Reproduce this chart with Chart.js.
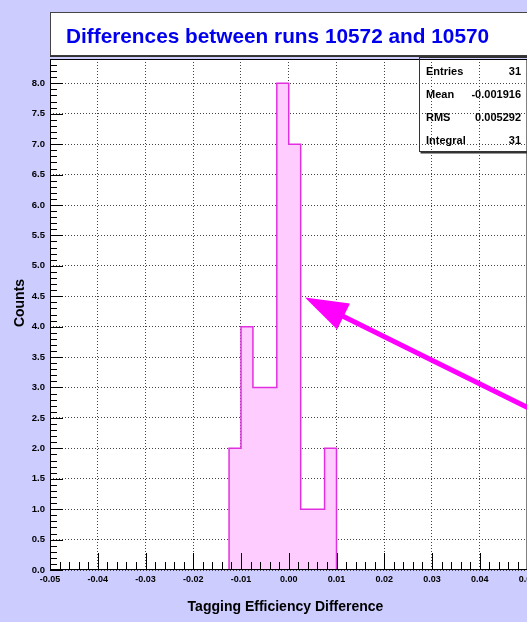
<!DOCTYPE html>
<html>
<head>
<meta charset="utf-8">
<title>Differences between runs 10572 and 10570</title>
<script src="https://cdn.jsdelivr.net/npm/chart.js@4/dist/chart.umd.min.js"></script>
<style>
  html, body { margin: 0; padding: 0; background: #ccccff; overflow: hidden; }
  #wrap { width: 527px; height: 622px; overflow: hidden; }
  canvas { display: block; }
</style>
</head>
<body>
<div id="wrap"><canvas id="c" width="560" height="622"></canvas></div>
<script>
// Histogram bin edges (tagging efficiency difference) and counts per bin
const binEdges = [-0.0125, -0.01, -0.0075, -0.005, -0.0025, 0.0, 0.0025, 0.005, 0.0075, 0.01];
const binCounts = [2, 4, 3, 3, 8, 7, 1, 1, 2];

// Axis ranges and tick spacing
const xRange = [-0.05, 0.05];
const yRange = [0, 8.4];
const xMajorStep = 0.01, xMinorStep = 0.002;
const yMajorStep = 0.5, yMinorStep = 0.1;

// Statistics box
const statNames = ['Entries', 'Mean', 'RMS', 'Integral'];
const statMean = '-0.001916';
const statRms = '0.005292';

// Annotation arrow (tail -> tip) in data coordinates
const arrowTail = { x: 0.057, y: 2.40 };
const arrowTip = { x: 0.0034, y: 4.48 };

const titleText = 'Differences between runs 10572 and 10570';
const xTitle = 'Tagging Efficiency Difference';
const yTitle = 'Counts';

// Step outline: up at the first edge, across each bin, down at the last edge
const histPoints = [{ x: binEdges[0], y: 0 }];
binCounts.forEach((c, i) => histPoints.push({ x: binEdges[i], y: c }));
histPoints.push({ x: binEdges[binEdges.length - 1], y: 0 });

const entries = binCounts.reduce((a, b) => a + b, 0);
const statValues = [String(entries), statMean, statRms, String(entries)];

const FONT = '"Liberation Sans", Arial, Helvetica, sans-serif';
const BG = '#ccccff';

const rootStyle = {
  id: 'rootStyle',
  beforeDraw(chart) {
    const { ctx, chartArea: a } = chart;
    ctx.save();
    ctx.fillStyle = BG;
    ctx.fillRect(0, 0, chart.width, chart.height);
    // plot frame background
    ctx.fillStyle = '#ffffff';
    ctx.fillRect(a.left, a.top, a.right - a.left, a.bottom - a.top);
    // title box
    ctx.fillStyle = '#ffffff';
    ctx.fillRect(50, 12.5, 600, 43);
    ctx.strokeStyle = '#444';
    ctx.lineWidth = 1;
    ctx.strokeRect(50.5, 12.5, 600, 43);
    ctx.fillStyle = '#333';
    ctx.fillRect(50, 55.5, 600, 1.5);
    ctx.fillStyle = '#0000ee';
    ctx.font = 'bold 20.8px ' + FONT;
    ctx.textBaseline = 'alphabetic';
    ctx.textAlign = 'left';
    ctx.fillText(titleText, 66, 43);
    ctx.restore();
  },
  afterDatasetsDraw(chart) {
    const { ctx, chartArea: a, scales: { x, y } } = chart;
    ctx.save();
    // frame
    ctx.strokeStyle = '#000';
    ctx.lineWidth = 1;
    ctx.strokeRect(a.left + 0.5, a.top + 0.5, a.right - a.left - 1, a.bottom - a.top - 1);

    // inward ticks on the x axis
    ctx.beginPath();
    const nx = Math.round((xRange[1] - xRange[0]) / xMinorStep);
    for (let i = 0; i <= nx; i++) {
      const v = xRange[0] + i * xMinorStep;
      const px = Math.round(x.getPixelForValue(v)) + 0.5;
      const major = i % Math.round(xMajorStep / xMinorStep) === 0;
      const len = major ? 17 : 8;
      ctx.moveTo(px, a.bottom);
      ctx.lineTo(px, a.bottom - len);
    }
    // inward ticks on the y axis
    const ny = Math.round((yRange[1] - yRange[0]) / yMinorStep);
    for (let i = 0; i <= ny; i++) {
      const v = yRange[0] + i * yMinorStep;
      const py = Math.round(y.getPixelForValue(v)) + 0.5;
      const major = i % Math.round(yMajorStep / yMinorStep) === 0;
      const len = major ? 13 : 7;
      ctx.moveTo(a.left, py);
      ctx.lineTo(a.left + len, py);
    }
    ctx.stroke();

    // statistics box (transparent, outlined)
    const bx = 419.5, by = 57.5, bw = 200, bh = 94;
    ctx.strokeStyle = '#333';
    ctx.lineWidth = 1;
    ctx.strokeRect(bx, by, bw, bh);
    ctx.fillStyle = '#333';
    ctx.fillRect(bx + 1, by + bh + 0.5, bw, 1.5);
    ctx.fillStyle = '#000';
    ctx.font = 'bold 11px ' + FONT;
    ctx.textBaseline = 'middle';
    statNames.forEach((n, i) => {
      const ry = 72 + i * 23;
      ctx.textAlign = 'left';
      ctx.fillText(n, 426, ry);
      ctx.textAlign = 'right';
      ctx.fillText(statValues[i], 521, ry);
    });

    // annotation arrow
    const tx = x.getPixelForValue(arrowTail.x), ty = y.getPixelForValue(arrowTail.y);
    const hx = x.getPixelForValue(arrowTip.x), hy = y.getPixelForValue(arrowTip.y);
    const ang = Math.atan2(hy - ty, hx - tx);
    const headLen = 43, headHalf = 14.5;
    const bxp = hx - headLen * Math.cos(ang), byp = hy - headLen * Math.sin(ang);
    ctx.strokeStyle = '#ff00ff';
    ctx.fillStyle = '#ff00ff';
    ctx.lineWidth = 5;
    ctx.beginPath();
    ctx.moveTo(tx, ty);
    ctx.lineTo(bxp + 4 * Math.cos(ang), byp + 4 * Math.sin(ang));
    ctx.stroke();
    ctx.beginPath();
    ctx.moveTo(hx, hy);
    ctx.lineTo(bxp + headHalf * Math.sin(ang), byp - headHalf * Math.cos(ang));
    ctx.lineTo(bxp - headHalf * Math.sin(ang), byp + headHalf * Math.cos(ang));
    ctx.closePath();
    ctx.fill();

    // axis titles
    ctx.fillStyle = '#000';
    ctx.font = 'bold 14px ' + FONT;
    ctx.textAlign = 'center';
    ctx.textBaseline = 'alphabetic';
    ctx.fillText(xTitle, 285.5, 611);
    ctx.save();
    ctx.translate(24, 303);
    ctx.rotate(-Math.PI / 2);
    ctx.fillText(yTitle, 0, 0);
    ctx.restore();
    ctx.restore();
  }
};

new Chart(document.getElementById('c'), {
  type: 'line',
  data: {
    datasets: [{
      data: histPoints,
      stepped: true,
      fill: 'origin',
      backgroundColor: '#ffccff',
      borderColor: '#e030e0',
      borderWidth: 1.5,
      pointRadius: 0,
      tension: 0
    }]
  },
  options: {
    responsive: false,
    animation: false,
    devicePixelRatio: 1,
    layout: { padding: { left: 0, top: 59, right: 32.5, bottom: 0 } },
    plugins: { legend: { display: false }, title: { display: false }, tooltip: { enabled: false } },
    scales: {
      x: {
        type: 'linear',
        min: xRange[0], max: xRange[1],
        afterFit(s) { s.height = 52; },
        grid: { color: '#444', lineWidth: 1, drawTicks: false },
        border: { display: false, dash: [1, 2] },
        ticks: {
          stepSize: xMajorStep, autoSkip: false, maxRotation: 0, padding: 4,
          color: '#000', font: { family: FONT, size: 9, weight: 'bold' },
          callback: v => Math.abs(v) < 1e-9 ? '0.00' : Number(v).toFixed(2)
        }
      },
      y: {
        type: 'linear',
        min: yRange[0], max: yRange[1],
        afterFit(s) { s.width = 50; },
        afterBuildTicks(s) { s.ticks = s.ticks.filter(t => t.value <= 8.0001); },
        grid: { color: '#444', lineWidth: 1, drawTicks: false },
        border: { display: false, dash: [1, 2] },
        ticks: {
          stepSize: yMajorStep, autoSkip: false, padding: 5,
          color: '#000', font: { family: FONT, size: 9.5, weight: 'bold' },
          callback: v => Number(v).toFixed(1)
        }
      }
    }
  },
  plugins: [rootStyle]
});
</script>
</body>
</html>
